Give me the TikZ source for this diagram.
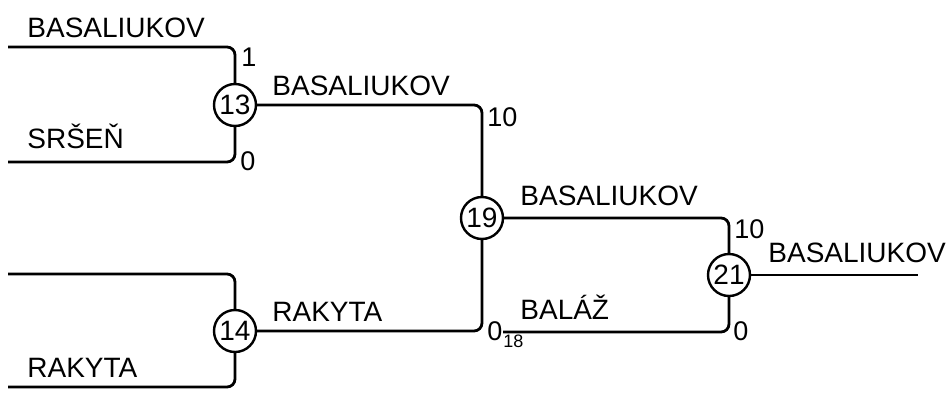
\documentclass[tikz,border=0pt]{standalone}
\usepackage{fontspec}
\setmainfont{Liberation Sans}
\usetikzlibrary{positioning}

\begin{document}
\begin{tikzpicture}[
    x=0.5pt, y=-0.5pt,
    font=\fontsize{14}{16}\selectfont,
    match/.style={
        circle, draw=black, line width=1.2pt, fill=white,
        minimum size=21pt, inner sep=0pt, font=\fontsize{14}{16}\selectfont
    },
    wire/.style={line width=1.4pt, rounded corners=4pt},
    player/.style={anchor=base west, inner sep=0pt},
    score/.style={inner sep=0pt, font=\fontsize{13.5}{15}\selectfont},
    seed/.style={anchor=north west, inner sep=0pt, font=\fontsize{9}{10}\selectfont}
]
\useasboundingbox (0,0) rectangle (949,392);

% ---------------- Matches ----------------
\node[match] (m13) at (235,105) {13};
\node[match] (m14) at (235,331) {14};
\node[match] (m19) at (482,218) {19};
\node[match] (m21) at (729,275) {21};

% ---------------- Free line ends ----------------
\coordinate (p1) at (8,47);
\coordinate (p2) at (8,162);
\coordinate (p3) at (8,274);
\coordinate (p4) at (8,387);
\coordinate (p18) at (503,332);
\coordinate (winner) at (918,275);

% ---------------- Lines ----------------
\draw[wire] (p1) -| (m13.north);
\draw[wire] (p2) -| (m13.south);
\draw[wire] (p3) -| (m14.north);
\draw[wire] (p4) -| (m14.south);
\draw[wire] (m13.east) -| (m19.north);
\draw[wire] (m14.east) -| (m19.south);
\draw[wire] (m19.east) -| (m21.north);
\draw[wire] (p18) -| (m21.south);
\draw[wire] (m21.east) -- (winner);

% ---------------- Players ----------------
\node[player] (n_p1) at (27,37) {BASALIUKOV};
\node[player] (n_p2) at (27,148) {SRŠEŇ};
\node[player] (n_p4) at (27,377) {RAKYTA};
\node[player] (n_m13) at (272,95) {BASALIUKOV};
\node[player] (n_m14) at (272,321) {RAKYTA};
\node[player] (n_m19) at (520,205) {BASALIUKOV};
\node[player] (n_p18) at (520,319) {BALÁŽ};
\node[player] (n_m21) at (768,262) {BASALIUKOV};

% ---------------- Scores ----------------
\node[score, anchor=north west] (s_p1) at (241,48) {1};
\node[score, anchor=west] (s_p2) at (240,161) {0};
\node[score, anchor=north west] (s_m13) at (487,107) {10};
\node[score, anchor=west] (s_m14) at (487,331) {0};
\node[seed] (seed18) at (503,335) {18};
\node[score, anchor=north west] (s_m19) at (734,219) {10};
\node[score, anchor=west] (s_p18) at (733,331) {0};

\end{tikzpicture}
\end{document}
